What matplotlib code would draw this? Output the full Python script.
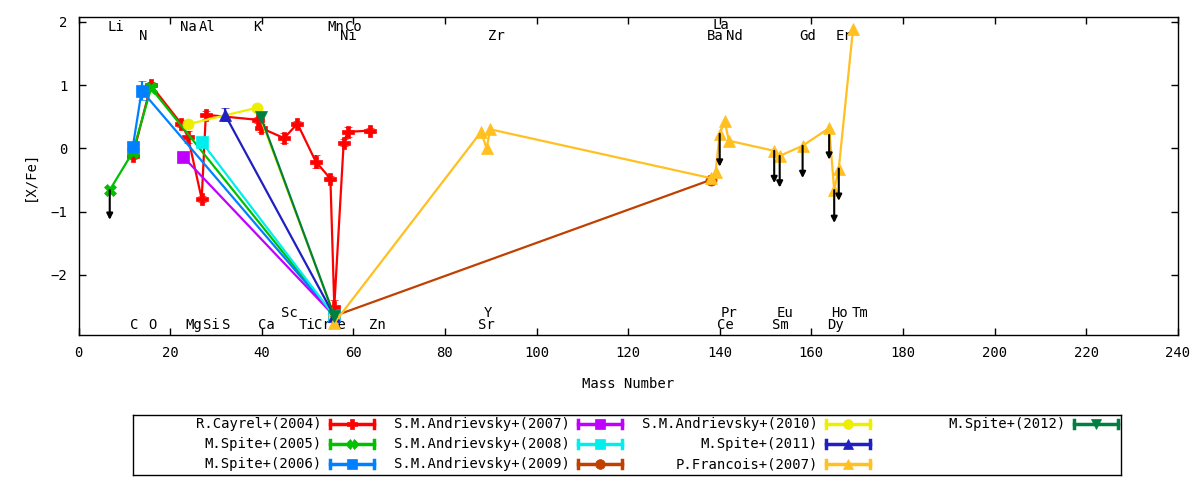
import matplotlib
matplotlib.use("Agg")
import matplotlib.pyplot as plt
from matplotlib.lines import Line2D

# -----------------------------
# Data
# -----------------------------
cayrel04_x = [11.85, 15.8, 22.4, 23.9, 26.9, 27.8, 39.1, 39.9, 44.9, 47.8, 51.8, 55.0, 55.85, 57.9, 58.8, 63.7]
cayrel04_y = [-0.12, 1.0, 0.39, 0.18, -0.80, 0.53, 0.45, 0.32, 0.16, 0.39, -0.21, -0.48, -2.50, 0.09, 0.26, 0.28]
cayrel04_err = [0.05, 0.05, 0.05, 0.10, 0.05, 0.06, 0.05, 0.07, 0.08, 0.04, 0.10, 0.04, 0.10, 0.05, 0.08, 0.04]

spite05_x = [6.82, 11.85, 15.85, 55.85]
spite05_y = [-0.66, -0.06, 0.95, -2.65]

spite06_x = [11.85, 13.8, 55.85]
spite06_y = [0.02, 0.91, -2.65]
spite06_err = [0.05, 0.15, 0.0]

andr07_x = [22.8, 55.85]
andr07_y = [-0.13, -2.65]

andr08_x = [26.9, 55.85]
andr08_y = [0.10, -2.65]

andr09_x = [55.85, 138.0]
andr09_y = [-2.65, -0.50]

andr10_x = [23.9, 38.9, 55.85]
andr10_y = [0.38, 0.64, -2.65]

spite11_x = [32.0, 55.85]
spite11_y = [0.53, -2.65]
spite11_err = [0.10, 0.0]

francois07_x = [55.85, 87.9, 89.1, 89.9, 138.0, 139.1, 140.0, 141.1, 142.0,
                151.9, 153.1, 158.1, 163.9, 165.0, 166.0, 169.1]
francois07_y = [-2.76, 0.26, 0.0, 0.30, -0.47, -0.38, 0.23, 0.43, 0.12,
                -0.04, -0.12, 0.04, 0.32, -0.66, -0.32, 1.88]

spite12_x = [39.8, 55.85]
spite12_y = [0.50, -2.65]

# upper limits (black arrows)
limit_x = [6.82, 140.0, 151.9, 153.1, 158.1, 163.9, 165.0, 166.0]
limit_top = [-0.66, 0.23, -0.04, -0.12, 0.04, 0.21, -0.66, -0.32]
limit_end = [-1.13, -0.29, -0.55, -0.62, -0.47, -0.18, -1.18, -0.83]

# element names along top and bottom
elem_top = ["Li", "Na", "Al", "K", "Mn", "Co", "La",
            "N", "Ni", "Zr", "Ba", "Nd", "Gd", "Er"]
elem_top_x = [8.1, 24.0, 28.0, 39.1, 56.1, 60.1, 140.2,
              14.2, 59.0, 91.3, 139.1, 143.3, 159.2, 167.2]
elem_top_y = [1.92, 1.92, 1.92, 1.92, 1.92, 1.92, 1.95,
              1.77, 1.77, 1.77, 1.77, 1.77, 1.77, 1.77]

elem_bot = ["Sc", "Y", "Pr", "Eu", "Ho", "Tm",
            "C", "O", "Mg", "Si", "S", "Ca", "Ti", "Cr", "Fe", "Zn",
            "Sr", "Ce", "Sm", "Dy"]
elem_bot_x = [46.1, 89.4, 142.0, 154.2, 166.1, 170.6,
              12.2, 16.2, 25.1, 29.1, 32.2, 41.1, 49.9, 53.2, 56.7, 65.2,
              89.1, 141.2, 153.3, 165.2]
elem_bot_y = [-2.60] * 6 + [-2.79] * 14

# -----------------------------
# Styles (gnuplot classic palette)
# -----------------------------
FONT = "DejaVu Sans Mono"
FS = 10
plt.rcParams["font.family"] = FONT
plt.rcParams["font.size"] = FS

series = [
    ("R.Cayrel+(2004)", cayrel04_x, cayrel04_y, cayrel04_err, "#ff0000", "P"),
    ("M.Spite+(2005)", spite05_x, spite05_y, None, "#00c000", "X"),
    ("M.Spite+(2006)", spite06_x, spite06_y, spite06_err, "#0080ff", "s"),
    ("S.M.Andrievsky+(2007)", andr07_x, andr07_y, None, "#c000ff", "s"),
    ("S.M.Andrievsky+(2008)", andr08_x, andr08_y, None, "#00eeee", "s"),
    ("S.M.Andrievsky+(2009)", andr09_x, andr09_y, None, "#c04000", "o"),
    ("S.M.Andrievsky+(2010)", andr10_x, andr10_y, None, "#eeee00", "o"),
    ("M.Spite+(2011)", spite11_x, spite11_y, spite11_err, "#2020c0", "^"),
    ("P.Francois+(2007)", francois07_x, francois07_y, None, "#ffc020", "^"),
    ("M.Spite+(2012)", spite12_x, spite12_y, None, "#008040", "v"),
]

# -----------------------------
# Main plot
# -----------------------------
fig = plt.figure(figsize=(12, 4.8), dpi=100)
ax = fig.add_axes([78.5 / 1200, 1 - 335 / 480, (1177.7 - 78.5) / 1200, (335 - 17.3) / 480])

for i, (label, xs, ys, err, color, mk) in enumerate(series):
    ax.errorbar(xs, ys, yerr=err, color=color, marker=mk, markersize=8,
                linewidth=1.6, elinewidth=1.6, capsize=3, capthick=1.6,
                markeredgewidth=0.5, zorder=3 + i)

for x, y0, y1 in zip(limit_x, limit_top, limit_end):
    ax.annotate("", xy=(x, y1), xytext=(x, y0),
                arrowprops=dict(arrowstyle="-|>", color="black", lw=1.5,
                                mutation_scale=9, shrinkA=0, shrinkB=0),
                zorder=20)

for name, x, y in zip(elem_top, elem_top_x, elem_top_y):
    ax.text(x, y, name, ha="center", va="center", fontsize=FS, zorder=1)
for name, x, y in zip(elem_bot, elem_bot_x, elem_bot_y):
    ax.text(x, y, name, ha="center", va="center", fontsize=FS, zorder=1)

ax.set_xlim(0, 240)
ax.set_ylim(-2.95, 2.07)
ax.set_xticks(range(0, 241, 20))
ax.set_yticks([-2, -1, 0, 1, 2])
ax.tick_params(direction="in", length=5, width=1, top=True, right=True,
               labelsize=FS, pad=8)
for sp in ax.spines.values():
    sp.set_linewidth(1)
ax.set_xlabel("Mass Number", fontsize=FS, labelpad=12)
ax.set_ylabel("[X/Fe]", fontsize=FS, labelpad=10)

# -----------------------------
# Legend (gnuplot style grid, text then sample)
# -----------------------------
lax = fig.add_axes([133 / 1200, 1 - 475 / 480, (1121 - 133) / 1200, 60 / 480])
lax.set_xlim(133, 1121)
lax.set_ylim(475, 415)
lax.set_xticks([])
lax.set_yticks([])
for sp in lax.spines.values():
    sp.set_linewidth(1)

for i, (label, xs, ys, err, color, mk) in enumerate(series):
    col, row = i // 3, i % 3
    tx = 322 + 248 * col
    ty = 424 + 20 * row
    lax.text(tx, ty, label, ha="right", va="center", fontsize=FS)
    x0, x1 = tx + 8, tx + 52
    lax.add_line(Line2D([x0, x1], [ty, ty], color=color, lw=2.5))
    lax.add_line(Line2D([x0, x0], [ty - 4, ty + 4], color=color, lw=2.5))
    lax.add_line(Line2D([x1, x1], [ty - 4, ty + 4], color=color, lw=2.5))
    lax.plot([(x0 + x1) / 2], [ty], marker=mk, color=color, markersize=7,
             markeredgewidth=0.5)

fig.savefig("out.png", dpi=100)
plt.close(fig)
